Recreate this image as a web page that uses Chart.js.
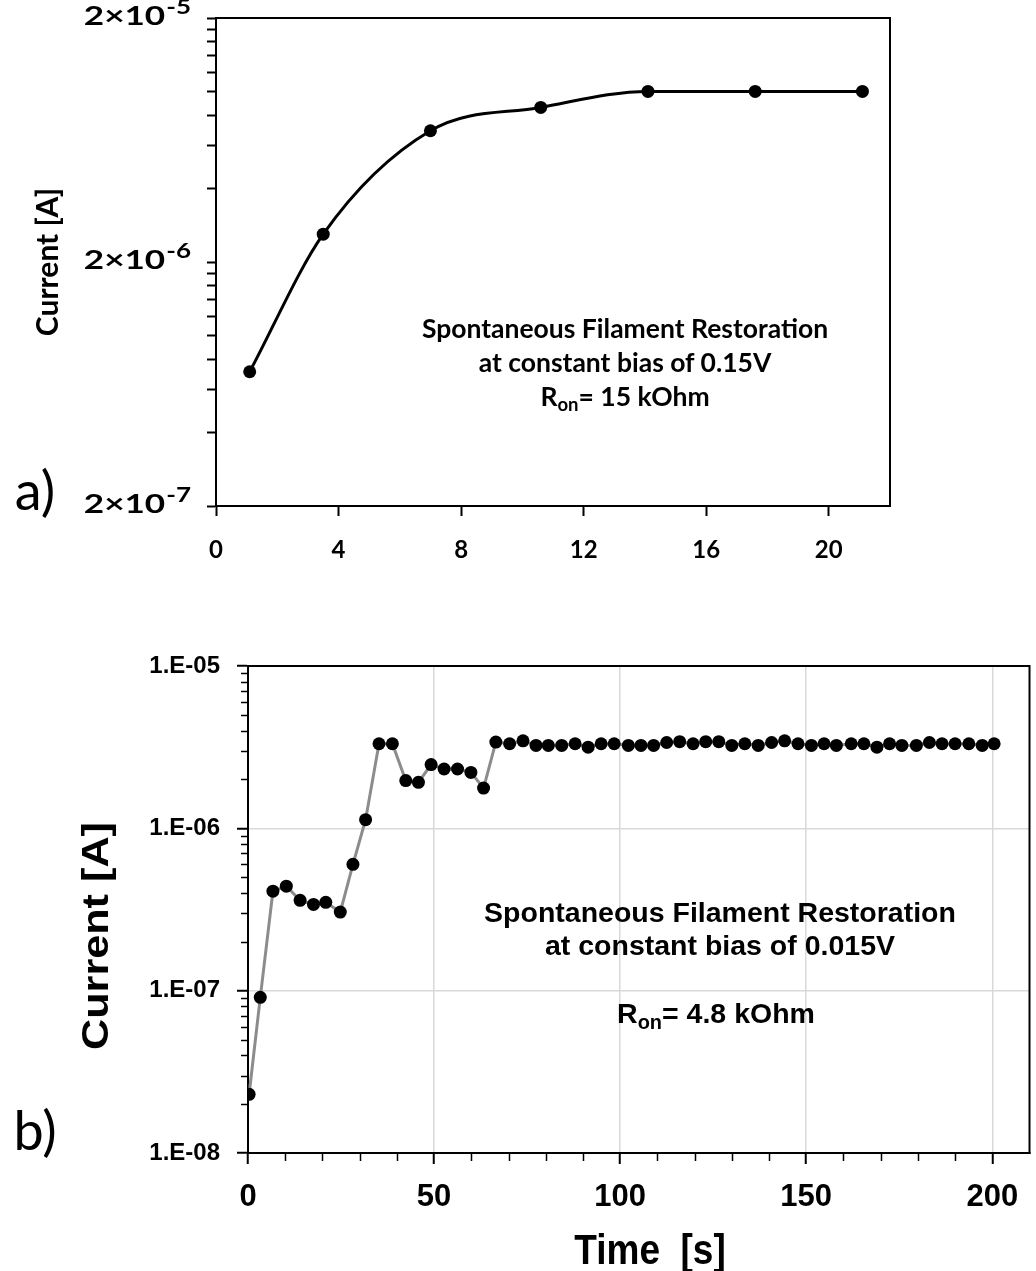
<!DOCTYPE html>
<html>
<head>
<meta charset="utf-8">
<title>Spontaneous Filament Restoration</title>
<script src="https://cdn.jsdelivr.net/npm/chart.js@4.4.1/dist/chart.umd.min.js"></script>
<style>
  body { margin: 0; background: #fff; }
  #wrap { position: relative; width: 1036px; height: 1271px; overflow: hidden; background: #fff; }
  canvas { position: absolute; left: 0; }
  #cTop { top: 0; }
  #cBot { top: 600px; }
  .txt { position: absolute; white-space: pre; color: #000; line-height: 1; transform: translate(-50%, -50%); }
  .rot { transform: translate(-50%, -50%) rotate(-90deg); }
  .cal { font-family: Lato, "Open Sans", sans-serif; font-weight: 700; }
  .ari { font-family: "Liberation Sans", Arial, sans-serif; font-weight: 700; }
  .panel { font-family: Lato, "Open Sans", sans-serif; font-weight: 400; font-size: 54px; }
  sub { font-size: 70%; vertical-align: -0.3em; line-height: 0; }
</style>
</head>
<body>
<div id="wrap">
  <canvas id="cTop" width="1036" height="600"></canvas>
  <canvas id="cBot" width="1036" height="671"></canvas>

  <div class="txt rot cal" style="left:46px; top:262px; font-size:30px;">Current [A]</div>
  <div class="txt panel" style="left:35px; top:490px;">a)</div>
  <div class="txt cal" style="left:625px; top:328px; font-size:26.5px;">Spontaneous Filament Restoration</div>
  <div class="txt cal" style="left:625px; top:362px; font-size:26.5px;">at constant bias of 0.15V</div>
  <div class="txt cal" style="left:625px; top:396px; font-size:26.5px;">R<sub>on</sub>= 15 kOhm</div>

  <div class="txt ari" style="left:96px; top:936px; font-size:36px; transform:translate(-50%,-50%) rotate(-90deg) scaleX(1.2);">Current [A]</div>
  <div class="txt panel" style="left:35px; top:1130px;">b)</div>
  <div class="txt ari" style="left:650px; top:1250px; font-size:37px; transform:translate(-50%,-50%) scaleY(1.15);">Time  [s]</div>
  <div class="txt ari" style="left:720px; top:912px; font-size:28.5px;">Spontaneous Filament Restoration</div>
  <div class="txt ari" style="left:720px; top:945px; font-size:28.5px;">at constant bias of 0.015V</div>
  <div class="txt ari" style="left:716px; top:1013px; font-size:28.5px;">R<sub>on</sub>= 4.8 kOhm</div>
</div>

<script>
// Panel a) – current vs time at 0.15V
const topTime = [1.1, 3.5, 7.0, 10.6, 14.1, 17.6, 21.1];
const topCurrent = [7.1e-7, 2.6e-6, 6.9e-6, 8.6e-6, 1.0e-5, 1.0e-5, 1.0e-5];
const topXTicks = [0, 4, 8, 12, 16, 20];
const topYMajor = [2e-7, 2e-6, 2e-5];
const topYBase = '2×10';
const topYExp = ['-7', '-6', '-5'];

// Panel b) – current vs time at 0.015V
const botTime = [0.3, 3.3, 6.7, 10.3, 14.0, 17.6, 20.9, 24.8, 28.2, 31.6,
  35.2, 38.8, 42.4, 45.8, 49.2, 52.7, 56.3, 59.9, 63.3, 66.6,
  70.3, 73.9, 77.4, 80.7, 84.3, 87.9, 91.4, 94.9, 98.4, 102.2,
  105.6, 109.0, 112.5, 116.0, 119.6, 123.0, 126.5, 130.0, 133.5, 137.1,
  140.7, 144.2, 147.8, 151.4, 154.8, 158.1, 162.1, 165.5, 169.0, 172.4,
  175.7, 179.6, 183.1, 186.5, 190.0, 193.7, 197.3, 200.5];
const botCurrent = [2.3e-8, 9.1e-8, 4.1e-7, 4.4e-7, 3.6e-7, 3.4e-7, 3.5e-7, 3.05e-7, 6.0e-7, 1.13e-6,
  3.32e-6, 3.32e-6, 1.97e-6, 1.92e-6, 2.47e-6, 2.32e-6, 2.32e-6, 2.21e-6, 1.77e-6, 3.40e-6,
  3.32e-6, 3.46e-6, 3.24e-6, 3.24e-6, 3.24e-6, 3.32e-6, 3.16e-6, 3.32e-6, 3.32e-6, 3.24e-6,
  3.24e-6, 3.24e-6, 3.38e-6, 3.42e-6, 3.32e-6, 3.42e-6, 3.42e-6, 3.24e-6, 3.32e-6, 3.24e-6,
  3.38e-6, 3.46e-6, 3.32e-6, 3.24e-6, 3.32e-6, 3.24e-6, 3.32e-6, 3.32e-6, 3.16e-6, 3.32e-6,
  3.24e-6, 3.24e-6, 3.38e-6, 3.32e-6, 3.32e-6, 3.32e-6, 3.24e-6, 3.32e-6];
const botXTicks = [0, 50, 100, 150, 200];
const botYTicks = [1e-8, 1e-7, 1e-6, 1e-5];
const botYLabels = ['1.E-08', '1.E-07', '1.E-06', '1.E-05'];

// minor tick positions (no labels)
const topYTicks = [];
[2e-7, 2e-6].forEach(m => { for (let k = 1; k <= 9; k++) topYTicks.push(m * k); });
topYTicks.push(2e-5);
const botXMinor = [];
for (let v = 10; v < 210; v += 10) if (v % 50) botXMinor.push(v);
const botYMinor = [];
[1e-8, 1e-7, 1e-6].forEach(m => { for (let k = 2; k <= 9; k++) botYMinor.push(m * k); });

const same = (a, b) => Math.abs(a / b - 1) < 1e-6;
const toXY = (xs, ys) => xs.map((x, i) => ({ x, y: ys[i] }));

const calFont = s => ({ family: 'Lato, "Open Sans", sans-serif', weight: 'bold', size: s });
const ariFont = s => ({ family: '"Liberation Sans", Arial, sans-serif', weight: 'bold', size: s });

// box round the plot area
const frame = {
  id: 'frame',
  beforeDatasetsDraw(chart) {
    const { ctx, chartArea: a } = chart;
    ctx.save();
    ctx.strokeStyle = '#000';
    ctx.lineWidth = 2;
    ctx.strokeRect(a.left, a.top, a.right - a.left, a.bottom - a.top);
    ctx.restore();
  }
};

// "2×10" with a raised exponent, a bit wide like the original
const powerLabels = {
  id: 'powerLabels',
  afterDraw(chart) {
    const { ctx, scales: { y } } = chart;
    const sx = 1.3;
    const fBase = 'bold 27px Lato, "Open Sans", sans-serif';
    const fExp = 'bold 20px Lato, "Open Sans", sans-serif';
    const right = y.right - 26;
    ctx.save();
    ctx.fillStyle = '#000';
    ctx.textBaseline = 'alphabetic';
    ctx.textAlign = 'left';
    topYMajor.forEach((v, i) => {
      const py = y.getPixelForValue(v);
      ctx.font = fBase;
      const wb = ctx.measureText(topYBase).width * sx;
      ctx.font = fExp;
      const we = ctx.measureText(topYExp[i]).width * sx;
      const x0 = right - wb - we;
      ctx.save();
      ctx.translate(x0, py + 7);
      ctx.scale(sx, 1);
      ctx.font = fBase;
      ctx.fillText(topYBase, 0, 0);
      ctx.restore();
      ctx.save();
      ctx.translate(x0 + wb + 1, py - 4);
      ctx.scale(sx, 1);
      ctx.font = fExp;
      ctx.fillText(topYExp[i], 0, 0);
      ctx.restore();
    });
    ctx.restore();
  }
};

// shorter minor ticks for panel b
const minorTicks = {
  id: 'minorTicks',
  afterDraw(chart) {
    const { ctx, scales: { x, y } } = chart;
    ctx.save();
    ctx.strokeStyle = '#000';
    ctx.lineWidth = 1.5;
    ctx.beginPath();
    botXMinor.forEach(v => {
      const px = Math.round(x.getPixelForValue(v)) + 0.5;
      ctx.moveTo(px, x.top); ctx.lineTo(px, x.top + 8);
    });
    botYMinor.forEach(v => {
      const py = Math.round(y.getPixelForValue(v)) + 0.5;
      ctx.moveTo(y.right, py); ctx.lineTo(y.right - 7, py);
    });
    ctx.stroke();
    ctx.restore();
  }
};

new Chart(document.getElementById('cTop'), {
  type: 'line',
  data: {
    datasets: [{
      data: toXY(topTime, topCurrent),
      borderColor: '#000',
      borderWidth: 3,
      cubicInterpolationMode: 'monotone',
      pointRadius: 6.5,
      pointBackgroundColor: '#000',
      pointBorderColor: '#000',
      pointBorderWidth: 0
    }]
  },
  options: {
    responsive: false,
    animation: false,
    layout: { padding: { top: 18, right: 146, left: 0, bottom: 0 } },
    plugins: { legend: { display: false }, tooltip: { enabled: false } },
    scales: {
      x: {
        type: 'linear', min: 0, max: 22,
        afterBuildTicks: s => { s.ticks = topXTicks.map(v => ({ value: v })); },
        afterFit: s => { s.height = 94; },
        ticks: { font: calFont(24), color: '#000', padding: 20, maxRotation: 0, autoSkip: false, callback: v => String(v) },
        grid: { drawOnChartArea: false, tickLength: 10, tickColor: '#000', tickWidth: 2 },
        border: { color: '#000', width: 2 }
      },
      y: {
        type: 'logarithmic', min: 2e-7, max: 2e-5,
        afterBuildTicks: s => { s.ticks = topYTicks.map(v => ({ value: v })); },
        afterFit: s => { s.width = 216; },
        ticks: { display: false, autoSkip: false },
        grid: { drawOnChartArea: false, tickLength: 9, tickColor: '#000', tickWidth: 2 },
        border: { color: '#000', width: 2 }
      }
    }
  },
  plugins: [frame, powerLabels]
});

new Chart(document.getElementById('cBot'), {
  type: 'line',
  data: {
    datasets: [{
      data: toXY(botTime, botCurrent),
      borderColor: '#8c8c8c',
      borderWidth: 3,
      tension: 0,
      pointRadius: 6.5,
      pointBackgroundColor: '#000',
      pointBorderColor: '#000',
      pointBorderWidth: 0
    }]
  },
  options: {
    responsive: false,
    animation: false,
    layout: { padding: { top: 66, right: 3, left: 0, bottom: 0 } },
    plugins: { legend: { display: false }, tooltip: { enabled: false } },
    scales: {
      x: {
        type: 'linear', min: 0, max: 210,
        afterBuildTicks: s => { s.ticks = botXTicks.map(v => ({ value: v })); },
        afterFit: s => { s.height = 118; },
        ticks: { font: ariFont(31), color: '#000', padding: 15, maxRotation: 0, autoSkip: false, callback: v => String(v) },
        grid: {
          color: c => (c.tick && c.tick.value > 0 ? '#d9d9d9' : 'rgba(0,0,0,0)'),
          lineWidth: 1.5, tickLength: 11, tickColor: '#000', tickWidth: 2
        },
        border: { color: '#000', width: 2 }
      },
      y: {
        type: 'logarithmic', min: 1e-8, max: 1e-5,
        afterBuildTicks: s => { s.ticks = botYTicks.map(v => ({ value: v })); },
        afterFit: s => { s.width = 248; },
        ticks: {
          font: ariFont(24), color: '#000', padding: 17, autoSkip: false,
          callback: v => { const i = botYTicks.findIndex(m => same(v, m)); return i < 0 ? '' : botYLabels[i]; }
        },
        grid: {
          color: c => (c.tick && c.tick.value > 1.5e-8 && c.tick.value < 5e-6 ? '#d9d9d9' : 'rgba(0,0,0,0)'),
          lineWidth: 1.5, tickLength: 11, tickColor: '#000', tickWidth: 2
        },
        border: { color: '#000', width: 2 }
      }
    }
  },
  plugins: [frame, minorTicks]
});
</script>
</body>
</html>
